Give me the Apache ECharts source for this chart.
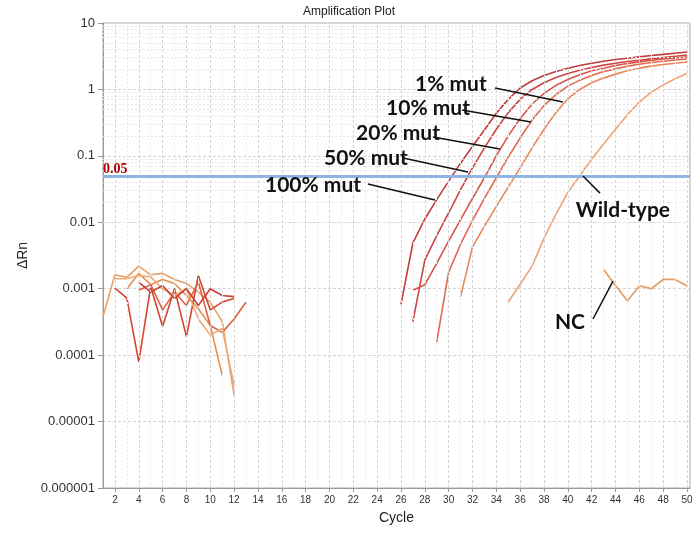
<!DOCTYPE html>
<html><head><meta charset="utf-8">
<script src="https://cdn.jsdelivr.net/npm/echarts@6/dist/echarts.min.js"></script>
<style>html,body{margin:0;padding:0;background:#fff}#c{width:698px;height:536px}</style>
</head><body><div id="c"></div>
<script>
// ---- tick labels ----
const xTickLabels = [2,4,6,8,10,12,14,16,18,20,22,24,26,28,30,32,34,36,38,40,42,44,46,48,50];
const yTickLabels = ['0.000001','0.00001','0.0001','0.001','0.01','0.1','1','10'];
const threshold = 0.05;

// ---- amplification curves (value per cycle, starting at the given cycle) ----
const mut100Start = 26;
const mut100 = [0.00058,0.0049,0.0112,0.0219,0.0417,0.0776,0.138,0.245,0.437,0.708,1.05,1.35,1.62,1.86,2.09,2.29,2.48,2.66,2.82,2.95,3.09,3.24,3.37,3.51,3.66];
const mut50Start = 27;
const mut50 = [0.00032,0.0027,0.0063,0.0138,0.0309,0.066,0.132,0.251,0.447,0.708,1.0,1.26,1.51,1.74,1.95,2.14,2.32,2.48,2.63,2.75,2.88,3.02,3.16,3.30];
const mut20Start = 27;
const mut20 = [0.00095,0.00115,0.0024,0.0052,0.011,0.0229,0.0468,0.1,0.2,0.363,0.603,0.871,1.15,1.41,1.66,1.91,2.09,2.29,2.45,2.6,2.75,2.88,2.99,3.08];
const mut10Start = 29;
const mut10 = [0.000158,0.00178,0.00468,0.0107,0.0229,0.0468,0.0955,0.186,0.347,0.575,0.832,1.12,1.38,1.62,1.86,2.04,2.24,2.4,2.54,2.66,2.77,2.87];
const mut1Start = 31;
const mut1 = [0.00076,0.00427,0.0087,0.0174,0.0339,0.066,0.132,0.251,0.447,0.724,1.0,1.26,1.48,1.7,1.91,2.09,2.24,2.37,2.48,2.59];
const wildStart = 35;
const wild = [0.00063,0.00117,0.00219,0.00575,0.0132,0.0282,0.0501,0.0891,0.151,0.251,0.417,0.646,0.912,1.17,1.45,1.74];
const ncStart = 43;
const nc = [0.00195,0.00112,0.00066,0.0011,0.001,0.00138,0.00138,0.0011];

// ---- early-cycle background noise ----
const noise1Start = 1;
const noise1 = [0.00038,0.00162,0.00148,0.00219,0.00162,0.0017,0.00138,0.0012,0.00089,0.00063,0.00032,0.000025];
const noise2Start = 3;
const noise2 = [0.001,0.0017,0.00115,0.00138,0.0012,0.00079,0.0005,0.00028,0.00005];
const noise3Start = 2;
const noise3 = [0.00102,0.00072,0.000079,0.00107,0.00027,0.001,0.00019,0.00158,0.00048,0.00063,0.00071];
const noise4Start = 4;
const noise4 = [0.00095,0.00115,0.00048,0.00089,0.00056,0.00126,0.00028,0.00022,0.00035,0.00063];
const noise5Start = 2;
const noise5 = [0.00141,0.00141,0.00158,0.00151,0.001,0.00079,0.001,0.00035,0.0002,0.00025,0.000035];
const noise6Start = 4;
const noise6 = [0.00126,0.00089,0.00112,0.00071,0.001,0.00056,0.001,0.00079,0.00076];

// ---- annotations (in data units: cycle, ΔRn) ----
const annoTexts = ['1% mut','10% mut','20% mut','50% mut','100% mut','Wild-type','NC'];
const annoTextAt = [[30.19,1.21],[28.27,0.525],[25.75,0.22],[23.06,0.0927],[18.62,0.0363],[44.62,0.0153],[40.18,0.000315]];
const annoFrom = [[33.89,1.05],[31.12,0.49],[28.68,0.192],[26.17,0.0927],[23.23,0.0377],[41.27,0.0497],[43.79,0.0013]];
const annoTo = [[39.59,0.646],[36.91,0.323],[34.3,0.127],[31.62,0.0571],[28.85,0.0216],[42.7,0.0275],[42.11,0.00035]];

function pairs(start, vals){ return vals.map((v,i)=>[start+i, v]); }
function curve(name, start, vals, color, w){
  return {name, type:'line', data:pairs(start, vals), symbol:'none', smooth:false,
    lineStyle:{color, width:w||1.6}, itemStyle:{color}, z:3};
}

// gridlines
const vGrid = [];
for (let c = 2; c <= 50; c++) {
  vGrid.push({xAxis:c, lineStyle: c%2===0 ? {color:'#d4d4d4', type:[3,2], width:1} : {color:'#e8e8e8', type:[2,2], width:1}});
}
const hGrid = [];
for (let d = -6; d <= 0; d++) {
  for (let k = 2; k <= 9; k++) hGrid.push({yAxis: k*Math.pow(10,d)});
}

const chart = echarts.init(document.getElementById('c'), null, {renderer:'canvas'});
chart.setOption({
  animation:false,
  backgroundColor:'#fff',
  title:{text:'Amplification Plot', left:'center', top:1,
    textStyle:{fontSize:12, fontWeight:'normal', color:'#222', fontFamily:'Liberation Sans, Arial, sans-serif'}},
  grid:{left:103, right:8, top:23, bottom:48, show:true, borderColor:'#aaa', borderWidth:1},
  xAxis:{type:'value', min:1, max:50.25,
    name:'Cycle', nameLocation:'middle', nameGap:23,
    nameTextStyle:{fontSize:14, color:'#222', fontFamily:'Liberation Sans, Arial, sans-serif'},
    axisLine:{lineStyle:{color:'#999'}},
    axisTick:{customValues:xTickLabels, length:4, lineStyle:{color:'#999'}},
    axisLabel:{customValues:xTickLabels, fontSize:10, color:'#333', margin:7, fontFamily:'Liberation Sans, Arial, sans-serif'},
    splitLine:{show:false}},
  yAxis:{type:'log', logBase:10, min:0.000001, max:10, splitNumber:7,
    name:'ΔRn', nameLocation:'middle', nameGap:71,
    nameTextStyle:{fontSize:14, color:'#222', fontFamily:'Liberation Sans, Arial, sans-serif'},
    axisLine:{show:true, lineStyle:{color:'#999'}},
    axisTick:{show:true, length:5, lineStyle:{color:'#999'}},
    axisLabel:{fontSize:13, color:'#333', margin:8, fontFamily:'Liberation Sans, Arial, sans-serif',
      formatter: v => { const i = Math.round(Math.log10(v)) + 6; return yTickLabels[i] !== undefined ? yTickLabels[i] : ''; }},
    splitLine:{show:true, lineStyle:{color:'#d4d4d4', type:[3,2]}}},
  series:[
    {type:'line', data:[], silent:true, z:1,
      markLine:{silent:true, symbol:['none','none'], label:{show:false},
        lineStyle:{color:'#e6e6e6', type:[2,2], width:1},
        data: vGrid.concat(hGrid)}},
    curve('noise1', noise1Start, noise1, '#eaa066'),
    curve('noise2', noise2Start, noise2, '#e69050'),
    curve('noise3', noise3Start, noise3, '#d2452f'),
    curve('noise4', noise4Start, noise4, '#dc6240'),
    curve('noise5', noise5Start, noise5, '#eeaa72'),
    curve('noise6', noise6Start, noise6, '#cc4036'),
    curve('100% mut', mut100Start, mut100, '#c23a3a'),
    curve('50% mut', mut50Start, mut50, '#cc4444'),
    curve('20% mut', mut20Start, mut20, '#d65448'),
    curve('10% mut', mut10Start, mut10, '#e06a50'),
    curve('1% mut', mut1Start, mut1, '#e8865c'),
    curve('Wild-type', wildStart, wild, '#eca274'),
    curve('NC', ncStart, nc, '#e2a06a', 1.8),
    {type:'line', data:[], silent:true, z:5,
      markLine:{silent:true, symbol:['none','none'],
        lineStyle:{color:'#8db4e2', width:3, type:'solid'},
        label:{show:true, position:'insideStartTop', formatter:'0.05', distance:[0,-1],
          color:'#b00000', fontFamily:'Liberation Serif, Times New Roman, serif', fontWeight:'bold', fontSize:14},
        data:[{yAxis:threshold}]}},
    {type:'line', data:[], silent:true, z:6,
      markLine:{silent:true, symbol:['none','none'], label:{show:false},
        lineStyle:{color:'#111', width:1.5, type:'solid'},
        data: annoFrom.map((f,i)=>[{coord:f},{coord:annoTo[i]}])},
      markPoint:{silent:true, symbol:'circle', symbolSize:0,
        label:{show:true, position:'inside', formatter: p => p.name,
          color:'#111', fontSize:21, fontWeight:'bold', fontFamily:'Lato, Liberation Sans, sans-serif'},
        data: annoTexts.map((t,i)=>({name:t, coord:annoTextAt[i]}))}}
  ]
});
</script></body></html>
